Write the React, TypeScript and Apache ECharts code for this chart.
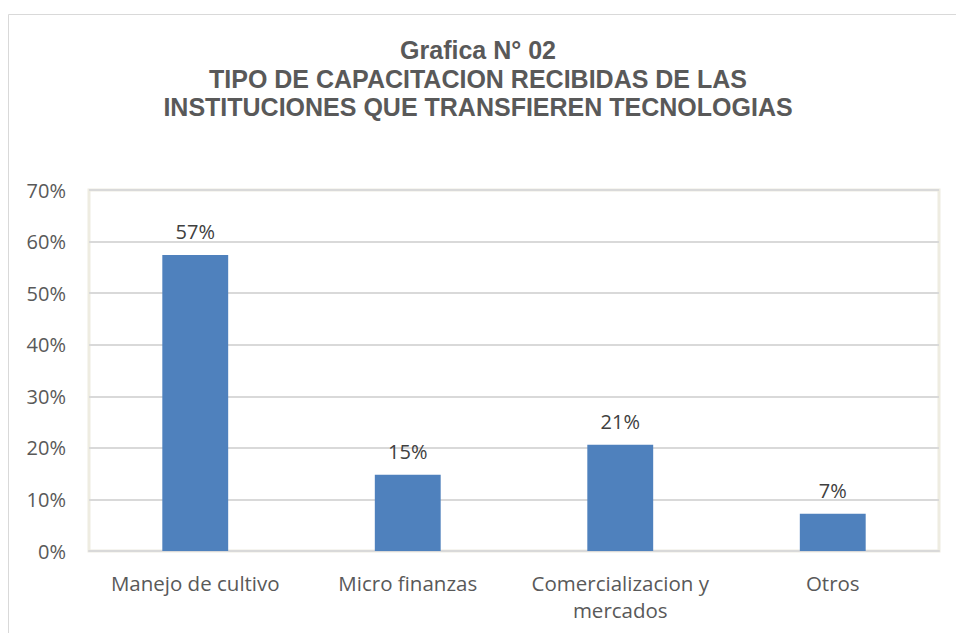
import React, { useEffect, useRef } from "react";
import * as echarts from "echarts";

const categories = ["Manejo de cultivo", "Micro finanzas", "Comercializacion y\nmercados", "Otros"];
const values = [57.4, 14.8, 20.6, 7.2];
const yTicks = [0, 10, 20, 30, 40, 50, 60, 70];
const titleLines = ["Grafica N° 02", "TIPO DE CAPACITACION RECIBIDAS DE LAS", "INSTITUCIONES QUE TRANSFIEREN TECNOLOGIAS"];

export default function App() {
  const ref = useRef<HTMLDivElement>(null);
  useEffect(() => {
    document.body.style.margin = "0";
    const chart = echarts.init(ref.current!, null, { renderer: "svg" });
    chart.setOption({
      animation: false,
      backgroundColor: "#ffffff",
      title: {
        text: titleLines.join("\n"),
        left: "center",
        top: 31,
        textStyle: {
          fontFamily: "Liberation Sans, Arial, sans-serif",
          fontWeight: "bold",
          fontSize: 25,
          lineHeight: 28.5,
          color: "#595959",
        },
      },
      graphic: [
        {
          type: "rect",
          shape: { x: 8.5, y: 14.5, width: 1000, height: 1000 },
          style: { fill: "none", stroke: "#D9D9D9", lineWidth: 1 },
          silent: true,
        },
      ],
      grid: {
        left: 89,
        right: 17,
        top: 190,
        bottom: 82,
        show: true,
        borderColor: "#EEECE1",
        borderWidth: 3,
        containLabel: false,
      },
      xAxis: {
        type: "category",
        data: categories,
        axisTick: { show: false },
        axisLine: { show: true, lineStyle: { color: "#D9D9D9", width: 2 } },
        axisLabel: {
          color: "#595959",
          fontFamily: "Open Sans, Noto Sans, sans-serif",
          fontSize: 20.5,
          lineHeight: 27,
          margin: 18,
          interval: 0,
        },
      },
      yAxis: {
        type: "value",
        min: yTicks[0],
        max: yTicks[yTicks.length - 1],
        interval: 10,
        axisLine: { show: false },
        axisTick: { show: false },
        splitLine: { lineStyle: { color: "#D9D9D9", width: 2 } },
        axisLabel: {
          color: "#595959",
          fontFamily: "Open Sans, Noto Sans, sans-serif",
          fontSize: 20,
          margin: 23,
          formatter: (v: number) => `${v}%`,
        },
      },
      series: [
        {
          type: "bar",
          data: values,
          barWidth: "31%",
          itemStyle: { color: "#4F81BD" },
          label: {
            show: true,
            position: "top",
            distance: 13,
            color: "#404040",
            fontFamily: "Open Sans, Noto Sans, sans-serif",
            fontSize: 20,
            formatter: (p: any) => `${Math.round(p.value)}%`,
          },
        },
      ],
    });
    return () => chart.dispose();
  }, []);
  return <div ref={ref} style={{ width: 956, height: 633 }} />;
}
